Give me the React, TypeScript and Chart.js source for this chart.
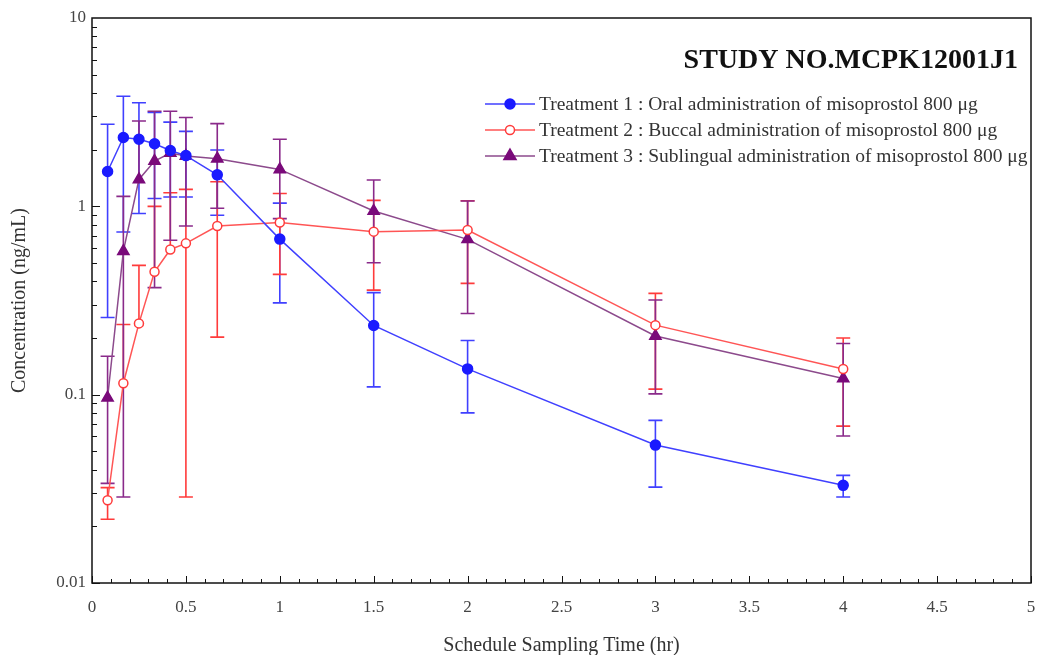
import React, { useEffect, useRef } from 'react';
import { Chart, registerables } from 'chart.js';

Chart.register(...registerables);

// Sampling times (hr)
const times = [0.083, 0.167, 0.25, 0.333, 0.417, 0.5, 0.667, 1, 1.5, 2, 3, 4];

// Treatment 1: Oral
const oralMean = [1.53, 2.32, 2.27, 2.15, 1.98, 1.86, 1.47, 0.67, 0.233, 0.137, 0.054, 0.033];
const oralUpper = [2.73, 3.84, 3.55, 3.15, 2.8, 2.5, 1.99, 1.04, 0.348, 0.194, 0.073, 0.0373];
const oralLower = [0.257, 0.73, 0.916, 1.1, 1.12, 1.12, 0.896, 0.307, 0.11, 0.08, 0.0323, 0.0286];

// Treatment 2: Buccal
const buccalMean = [0.0275, 0.115, 0.239, 0.449, 0.59, 0.636, 0.786, 0.82, 0.734, 0.749, 0.234, 0.137];
const buccalUpper = [0.0321, 0.236, 0.486, 1.0, 1.18, 1.23, 1.35, 1.17, 1.076, 1.07, 0.345, 0.2];
const buccalLower = [0.0218, null, null, null, null, 0.0286, 0.202, 0.435, 0.359, 0.39, 0.107, 0.0681];

// Treatment 3: Sublingual
const sublingualMean = [0.0963, 0.578, 1.39, 1.74, 1.92, 1.85, 1.79, 1.57, 0.944, 0.668, 0.205, 0.122];
const sublingualUpper = [0.16, 1.13, 2.84, 3.2, 3.2, 2.96, 2.75, 2.27, 1.38, 1.067, 0.318, 0.187];
const sublingualLower = [0.0338, 0.0286, null, 0.37, 0.66, 0.786, 0.976, 0.86, 0.502, 0.27, 0.101, 0.0603];

const seriesLabels = [
  'Treatment 1 : Oral administration of misoprostol 800 \u03bcg',
  'Treatment 2 : Buccal administration of misoprostol 800 \u03bcg',
  'Treatment 3 : Sublingual administration of misoprostol 800 \u03bcg',
];

const xTicks = [0, 0.5, 1, 1.5, 2, 2.5, 3, 3.5, 4, 4.5, 5];
const yTicks = [0.01, 0.1, 1, 10];

const chartTitle = 'STUDY NO.MCPK12001J1';
const xTitle = 'Schedule Sampling Time (hr)';
const yTitle = 'Concentration (ng/mL)';

const SERIF = "'Liberation Serif', 'Times New Roman', serif";

const BLUE = '#1a1aff';
const BLUE_LINE = '#4040ff';
const RED = '#ff3b3b';
const RED_LINE = '#ff5555';
const PURPLE = '#7a0a7a';
const PURPLE_LINE = '#8c4a8c';
const PURPLE_BAR = '#8a2a8a';

const toPoints = (ys: (number | null)[]) => times.map((t, i) => ({ x: t, y: ys[i] as number }));

function drawMarker(ctx: CanvasRenderingContext2D, style: string, x: number, y: number, r: number, fill: string, stroke: string) {
  ctx.save();
  ctx.beginPath();
  if (style === 'triangle') {
    ctx.moveTo(x, y - r);
    ctx.lineTo(x + r * 0.866, y + r * 0.5);
    ctx.lineTo(x - r * 0.866, y + r * 0.5);
    ctx.closePath();
  } else {
    ctx.arc(x, y, r, 0, Math.PI * 2);
  }
  ctx.fillStyle = fill;
  ctx.fill();
  ctx.lineWidth = 1.5;
  ctx.strokeStyle = stroke;
  ctx.stroke();
  ctx.restore();
}

export default function App() {
  const ref = useRef<HTMLCanvasElement>(null);

  useEffect(() => {
    document.body.style.margin = '0';
    const canvas = ref.current;
    if (!canvas) return;

    const errorBars = [
      { upper: oralUpper, lower: oralLower, color: BLUE_LINE },
      { upper: buccalUpper, lower: buccalLower, color: RED },
      { upper: sublingualUpper, lower: sublingualLower, color: PURPLE_BAR },
    ];
    const legendStyles = [
      { style: 'circle', r: 5, fill: BLUE, stroke: BLUE, line: BLUE_LINE },
      { style: 'circle', r: 4.5, fill: '#ffffff', stroke: RED, line: RED_LINE },
      { style: 'triangle', r: 7, fill: PURPLE, stroke: PURPLE, line: PURPLE_LINE },
    ];

    const errorBarPlugin = {
      id: 'errorBars',
      beforeDatasetsDraw(chart: any) {
        const ctx = chart.ctx;
        const xs = chart.scales.x;
        const ys = chart.scales.y;
        ctx.save();
        ctx.lineWidth = 1.6;
        errorBars.forEach((eb, di) => {
          ctx.strokeStyle = eb.color;
          times.forEach((t, i) => {
            const mean = chart.data.datasets[di].data[i].y;
            const px = xs.getPixelForValue(t);
            const pm = ys.getPixelForValue(mean);
            const hw = 7;
            const up = eb.upper[i];
            const lo = eb.lower[i];
            ctx.beginPath();
            if (up != null) {
              const pu = ys.getPixelForValue(up);
              ctx.moveTo(px, pm);
              ctx.lineTo(px, pu);
              ctx.moveTo(px - hw, pu);
              ctx.lineTo(px + hw, pu);
            }
            if (lo != null) {
              const pl = ys.getPixelForValue(lo);
              ctx.moveTo(px, pm);
              ctx.lineTo(px, pl);
              ctx.moveTo(px - hw, pl);
              ctx.lineTo(px + hw, pl);
            }
            ctx.stroke();
          });
        });
        ctx.restore();
      },
    };

    const framePlugin = {
      id: 'frame',
      afterDatasetsDraw(chart: any) {
        const ctx = chart.ctx;
        const { left, right, top, bottom } = chart.chartArea;
        const xs = chart.scales.x;
        const ys = chart.scales.y;
        ctx.save();
        ctx.strokeStyle = '#111';
        ctx.lineWidth = 1.5;
        ctx.strokeRect(left, top, right - left, bottom - top);
        ctx.lineWidth = 1;
        ctx.beginPath();
        for (let k = 0; k <= 50; k++) {
          const v = k / 10;
          const px = Math.round(xs.getPixelForValue(v)) + 0.5;
          const len = k % 5 === 0 ? 7 : 4;
          ctx.moveTo(px, bottom);
          ctx.lineTo(px, bottom - len);
        }
        for (let d = -2; d < 1; d++) {
          for (let m = 1; m <= 9; m++) {
            const v = m * Math.pow(10, d);
            const py = Math.round(ys.getPixelForValue(v)) + 0.5;
            const len = m === 1 ? 8 : 5;
            ctx.moveTo(left, py);
            ctx.lineTo(left + len, py);
          }
        }
        ctx.stroke();
        ctx.restore();
      },
    };

    const legendPlugin = {
      id: 'customLegend',
      afterDraw(chart: any) {
        const ctx = chart.ctx;
        ctx.save();
        ctx.font = `bold 28px ${SERIF}`;
        ctx.fillStyle = '#111';
        ctx.textAlign = 'right';
        ctx.textBaseline = 'middle';
        ctx.fillText(chartTitle, 1018, 61);
        ctx.font = `19.5px ${SERIF}`;
        ctx.textAlign = 'left';
        seriesLabels.forEach((label, i) => {
          const y = 104 + i * 26;
          const s = legendStyles[i];
          ctx.strokeStyle = s.line;
          ctx.lineWidth = 1.6;
          ctx.beginPath();
          ctx.moveTo(485, y);
          ctx.lineTo(535, y);
          ctx.stroke();
          drawMarker(ctx, s.style, 510, y, s.r, s.fill, s.stroke);
          ctx.fillStyle = '#333';
          ctx.fillText(label, 539, y + 1);
        });
        ctx.restore();
      },
    };

    const chart = new Chart(canvas, {
      type: 'line',
      data: {
        datasets: [
          {
            label: seriesLabels[0],
            data: toPoints(oralMean),
            borderColor: BLUE_LINE,
            backgroundColor: BLUE,
            pointBackgroundColor: BLUE,
            pointBorderColor: BLUE,
            pointStyle: 'circle',
            pointRadius: 5,
            borderWidth: 1.5,
            tension: 0,
          },
          {
            label: seriesLabels[1],
            data: toPoints(buccalMean),
            borderColor: RED_LINE,
            backgroundColor: '#ffffff',
            pointBackgroundColor: '#ffffff',
            pointBorderColor: RED,
            pointBorderWidth: 1.5,
            pointStyle: 'circle',
            pointRadius: 4.5,
            borderWidth: 1.5,
            tension: 0,
          },
          {
            label: seriesLabels[2],
            data: toPoints(sublingualMean),
            borderColor: PURPLE_LINE,
            backgroundColor: PURPLE,
            pointBackgroundColor: PURPLE,
            pointBorderColor: PURPLE,
            pointStyle: 'triangle',
            pointRadius: 6.5,
            borderWidth: 1.5,
            tension: 0,
          },
        ],
      },
      options: {
        responsive: false,
        animation: false,
        layout: { padding: { top: 18, right: 6, left: 0, bottom: 0 } },
        plugins: {
          legend: { display: false },
          tooltip: { enabled: false },
        },
        scales: {
          x: {
            type: 'linear',
            min: 0,
            max: 5,
            grid: { display: false, drawTicks: true, tickLength: 14 },
            border: { display: false },
            afterFit: (scale: any) => {
              scale.height = 72;
              scale.paddingLeft = 0;
              scale.paddingRight = 0;
            },
            afterBuildTicks: (scale: any) => { scale.ticks = xTicks.map((v) => ({ value: v })); },
            ticks: {
              padding: 0,
              color: '#444',
              font: { family: SERIF, size: 17 },
              maxRotation: 0,
              autoSkip: false,
              callback: (v: any) => String(v),
            },
            title: {
              display: true,
              text: xTitle,
              color: '#333',
              font: { family: SERIF, size: 20 },
              padding: { top: 0, bottom: -3 },
            },
          },
          y: {
            type: 'logarithmic',
            min: 0.01,
            max: 10,
            grid: { display: false, drawTicks: false },
            border: { display: false },
            afterFit: (scale: any) => {
              scale.width = 92;
              scale.paddingTop = 0;
              scale.paddingBottom = 0;
            },
            afterBuildTicks: (scale: any) => { scale.ticks = yTicks.map((v) => ({ value: v })); },
            ticks: {
              padding: 6,
              color: '#444',
              font: { family: SERIF, size: 17 },
              autoSkip: false,
              callback: (v: any) => String(v),
            },
            title: {
              display: true,
              text: yTitle,
              color: '#333',
              font: { family: SERIF, size: 20 },
              padding: { top: 8, bottom: 0 },
            },
          },
        },
      },
      plugins: [errorBarPlugin, framePlugin, legendPlugin],
    });

    return () => chart.destroy();
  }, []);

  return (
    <div style={{ width: 1039, height: 655, position: 'relative', background: '#fff' }}>
      <canvas ref={ref} width={1039} height={655} style={{ display: 'block' }} />
    </div>
  );
}
